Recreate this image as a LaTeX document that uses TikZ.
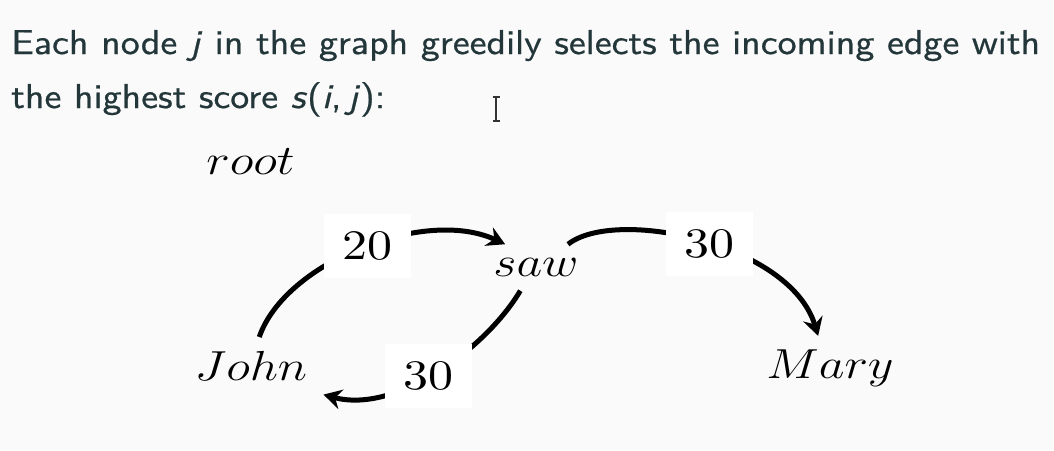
\RequirePackage{fix-cm}
\documentclass[tikz,border=0pt]{standalone}
\usepackage{fontspec}
\usepackage{graphicx}
\usetikzlibrary{arrows.meta}
\newfontfamily\lmsansten{lmsans10-regular.otf}[ItalicFont=lmsans10-oblique.otf,
  BoldFont=lmsans10-regular.otf, BoldItalicFont=lmsans10-oblique.otf,
  BoldFeatures={FakeBold=0.6}, BoldItalicFeatures={FakeBold=0.6}]
\newfontfamily\lmromten{lmroman10-regular.otf}
\definecolor{bg}{HTML}{FAFAFA}
\definecolor{fg}{HTML}{23373B}
\newcommand{\hs}[1]{\scalebox{1.19}[1]{#1}}
\newlength{\lineAwidth}
\begin{document}
\settowidth{\lineAwidth}{\fontsize{34.5}{50}\selectfont\lmsansten\bfseries Each node \textit{j} in the graph greedily selects the incoming edge with}%
\pgfmathsetmacro{\tf}{1029/\lineAwidth}%
\begin{tikzpicture}[x=1pt,y=-1pt,
  word/.style={font=\fontsize{42}{50}\selectfont, inner xsep=16pt, inner ysep=14pt},
  lbl/.style={font=\fontsize{42}{50}\selectfont\lmromten, fill=white, inner sep=0pt, minimum width=87pt, minimum height=64pt},
  arc/.style={line width=5pt, -{Stealth[length=18pt,width=20pt,inset=6pt]}},
  para/.style={font=\fontsize{34.5}{50}\selectfont\lmsansten\bfseries, text=fg, inner sep=0pt, anchor=base west}]
\fill[bg] (0,0) rectangle (1054,450);
\useasboundingbox (0,0) rectangle (1054,450);
\node[para] (l1) at (11,54) {\scalebox{\tf}[1]{Each node \textit{j} in the graph greedily selects the incoming edge with}};
\node[para] (l2) at (11,108) {\scalebox{\tf}[1]{the highest score \textit{s}(\textit{i},\,\textit{j}):}};
\node[word] (root) at (250.5,162) {\hs{$root$}};
\node[word] (saw) at (536,267.5) {\hs{$saw$}};
\node[word] (John) at (251,365.8) {\hs{$John$}};
\node[word] (Mary) at (830,368.5) {\hs{$Mary$}};
\draw[arc] (John.74) .. controls (285,262) and (425,207) .. node[lbl,pos=0.52] (e1) {\hs{20}} (saw.143);
\draw[arc] (saw.236) .. controls (485,350) and (395,414) .. node[lbl,pos=0.53] (e2) {\hs{30}} (John.south east);
\draw[arc] (saw.36) .. controls (615,207) and (790,243) .. node[lbl,pos=0.53] (e3) {\hs{30}} (Mary.110);
% text cursor
\coordinate (ct) at (496,97);
\coordinate (cb) at (496,121);
\draw[white, line width=3pt] ([xshift=-4pt]ct) -- ([xshift=4pt]ct) (ct) -- (cb) ([xshift=-4pt]cb) -- ([xshift=4pt]cb);
\draw[black!80, line width=1.3pt] ([xshift=-3.5pt]ct) -- ([xshift=3.5pt]ct) (ct) -- (cb) ([xshift=-3.5pt]cb) -- ([xshift=3.5pt]cb);
\end{tikzpicture}
\end{document}
